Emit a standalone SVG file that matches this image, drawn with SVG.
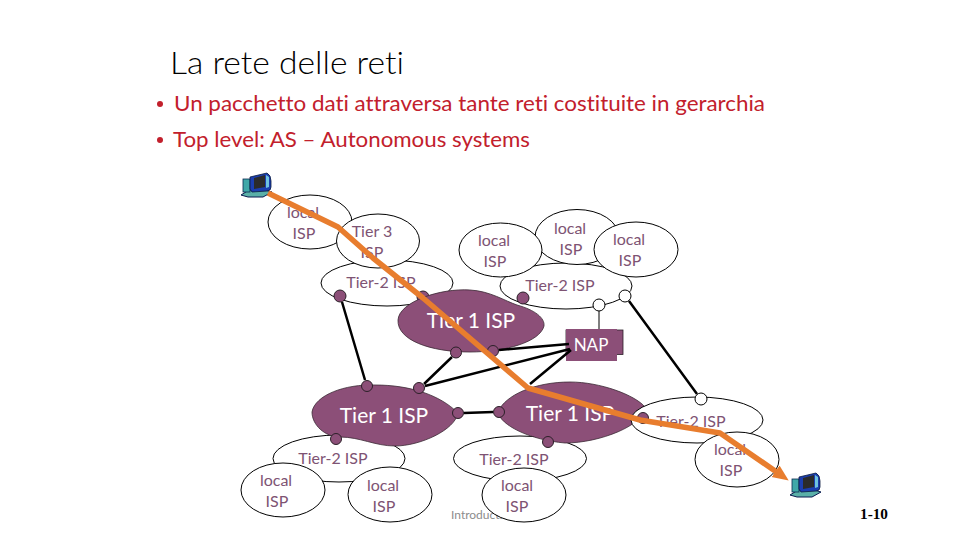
<svg xmlns="http://www.w3.org/2000/svg" width="960" height="540" viewBox="0 0 960 540">
<style>
text{font-variant-ligatures:none}
.title{font-family:"Lato","Open Sans","Liberation Sans",sans-serif;font-weight:300;font-size:32px;fill:#000}
.bullet{font-family:"Lato","Open Sans","Liberation Sans",sans-serif;font-size:21px;fill:#c2202c}
.lb{font-family:"Lato","Open Sans","Liberation Sans",sans-serif;font-size:16px;fill:#7e5373;text-anchor:middle}
.wl{font-family:"Lato","Open Sans","Liberation Sans",sans-serif;font-size:21px;fill:#fff;text-anchor:middle}
.wn{font-family:"Lato","Open Sans","Liberation Sans",sans-serif;font-size:17px;fill:#fff;text-anchor:middle}
.oval{fill:#fff;stroke:#000;stroke-width:1}
.t1{fill:#8c4f78;stroke:#3b2a35;stroke-width:.8}
.dot{fill:#8c4f78;stroke:#2b2028;stroke-width:1}
.wd{fill:#fff;stroke:#000;stroke-width:1}
.line{stroke:#000;stroke-width:2.5;fill:none}
.route{stroke:#e87d2e;stroke-width:5.5;fill:none;stroke-linejoin:round}
</style>
<defs>
<marker id="ah" markerUnits="userSpaceOnUse" markerWidth="18" markerHeight="16" refX="3" refY="8" orient="auto"><polygon points="0,1 16,8 0,15" fill="#e87d2e"/></marker>
<g id="pc">
<polygon points="0,23 7,25 22,25 31,20 24,18 8,18" fill="#5ab0a8" stroke="#0a1a50" stroke-width="1"/>
<rect x="2" y="7" width="7" height="13" fill="#3fa8a8" stroke="#0a2a50" stroke-width=".8"/>
<path d="M9 5L26 1Q30 3 30 9V15Q30 19 26 19L11 20L9 17Z" fill="#1c3fb0" stroke="#0a1a40" stroke-width=".8"/>
<path d="M13 6L24 3V15L13 17Z" fill="#2b2b2b"/>
<path d="M25 3L28 5V15L25 16Z" fill="#6fc4e0"/>
</g>
</defs>
<text class="title" x="170" y="74" textLength="234" lengthAdjust="spacingAndGlyphs">La rete delle reti</text>
<g id="bullets">
<circle cx="160" cy="104" r="3" fill="#c2202c"/>
<text class="bullet" x="174" y="111" textLength="591" lengthAdjust="spacingAndGlyphs">Un pacchetto dati attraversa tante reti costituite in gerarchia</text>
<circle cx="160" cy="140" r="3" fill="#c2202c"/>
<text class="bullet" x="173" y="147" textLength="357" lengthAdjust="spacingAndGlyphs">Top level: AS – Autonomous systems</text>
</g>
<text x="451" y="519" font-family="Lato,'Open Sans','Liberation Sans',sans-serif" font-size="12" fill="#8c8c8c">Introduction</text>
<g id="tier2-a"><ellipse class="oval" cx="387" cy="283" rx="66" ry="23"/><text class="lb" x="381" y="288">Tier-2 ISP</text></g>
<g id="local-a"><ellipse class="oval" cx="310" cy="222" rx="42" ry="27"/><text class="lb"><tspan x="303" y="218">local</tspan><tspan x="304" y="239">ISP</tspan></text></g>
<g id="tier3"><ellipse class="oval" cx="378" cy="241" rx="41.500" ry="27"/><text class="lb"><tspan x="372" y="237">Tier 3</tspan><tspan x="372" y="258">ISP</tspan></text></g>
<g id="tier2-b"><ellipse class="oval" cx="566" cy="286" rx="66" ry="23"/><text class="lb" x="560" y="291">Tier-2 ISP</text></g>
<g id="local-c"><ellipse class="oval" cx="577" cy="237" rx="42" ry="27.500"/><text class="lb"><tspan x="570" y="234">local</tspan><tspan x="571" y="255">ISP</tspan></text></g>
<g id="local-b"><ellipse class="oval" cx="500.500" cy="250" rx="41.500" ry="27"/><text class="lb"><tspan x="494" y="246">local</tspan><tspan x="495" y="267">ISP</tspan></text></g>
<g id="local-d"><ellipse class="oval" cx="636" cy="249.500" rx="42" ry="27.500"/><text class="lb"><tspan x="629" y="245">local</tspan><tspan x="630" y="266">ISP</tspan></text></g>
<g id="tier1-top"><circle class="dot" cx="423" cy="297" r="6"/><circle class="dot" cx="523" cy="298" r="6"/><path class="t1" d="M398 320C399 302 440 288 470 290C490 291 505 301 517 305C535 310 545 318 544 326C540 342 505 352 470 352C430 352 397 340 398 320Z"/><text class="wl" x="471" y="328">Tier 1 ISP</text><circle class="dot" cx="456" cy="352.500" r="5.500"/><circle class="dot" cx="493" cy="351" r="5.500"/></g>
<circle class="dot" cx="340" cy="296" r="6"/>
<g id="nap"><rect x="566" y="330" width="57" height="24.500" fill="#8c4f78" stroke="#2b2028" stroke-width=".8"/><rect x="566" y="329" width="51" height="32" fill="#8c4f78"/><text class="wn" x="591" y="351">NAP</text></g>
<circle class="wd" cx="599" cy="305" r="6"/><circle class="wd" cx="625" cy="296" r="6"/>
<g id="tier2-c"><ellipse class="oval" cx="339" cy="458.500" rx="66" ry="23.500"/><text class="lb" x="333" y="464">Tier-2 ISP</text></g>
<g id="tier1-left"><path class="t1" d="M312 412C315 395 345 384 375 385C410 385 440 395 458 413C455 430 420 446 395 446C375 446 360 437 340 437C325 437 312 425 312 412Z"/><text class="wl" x="384" y="423">Tier 1 ISP</text><circle class="dot" cx="367" cy="386" r="5.500"/><circle class="dot" cx="419" cy="388" r="5.500"/><circle class="dot" cx="458" cy="413" r="5.500"/><circle class="dot" cx="336" cy="439" r="5.500"/></g>
<g id="local-e"><ellipse class="oval" cx="283" cy="490" rx="42" ry="27"/><text class="lb"><tspan x="276" y="486">local</tspan><tspan x="277" y="507">ISP</tspan></text></g>
<g id="local-f"><ellipse class="oval" cx="390" cy="494.500" rx="42" ry="27.500"/><text class="lb"><tspan x="383" y="491">local</tspan><tspan x="384" y="512">ISP</tspan></text></g>
<g id="tier2-d"><ellipse class="oval" cx="520" cy="458.500" rx="66.500" ry="22.500"/><text class="lb" x="514" y="465">Tier-2 ISP</text></g>
<g id="tier1-right"><path class="t1" d="M498 412C505 395 535 382 570 382C600 382 635 395 645 407C645 425 600 443 565 443C530 440 500 425 498 412Z"/><text class="wl" x="570" y="421">Tier 1 ISP</text><circle class="dot" cx="499" cy="412" r="5.500"/><circle class="dot" cx="548" cy="442" r="5.500"/></g>
<g id="local-g"><ellipse class="oval" cx="524" cy="495" rx="42" ry="27"/><text class="lb"><tspan x="517" y="491">local</tspan><tspan x="517" y="512">ISP</tspan></text></g>
<g id="tier2-e"><ellipse class="oval" cx="697" cy="420" rx="66" ry="23"/><text class="lb" x="691" y="427">Tier-2 ISP</text><circle class="dot" cx="643" cy="418" r="5.500"/><circle class="wd" cx="701" cy="399" r="6"/></g>
<g id="local-h"><ellipse class="oval" cx="737" cy="459.500" rx="42" ry="27.500"/><text class="lb"><tspan x="730" y="455">local</tspan><tspan x="731" y="476">ISP</tspan></text></g>
<use id="pc-a" href="#pc" x="241" y="172"/>
<use id="pc-b" href="#pc" x="790" y="472"/>
<g id="connectors">
<path class="line" d="M342 302L365 380M629 301L697 394M452 357L424 384M425 386L570 349M499 350L569 344M530 384L571 350M464 413L493 412"/>
<path d="M599 311V329" stroke="#000" stroke-width="1"/>
<path class="route" marker-end="url(#ah)" d="M268 193L338 227L373 258L423 298L528 388L640 420L720 433L778 473"/>
</g>
<text x="860" y="519" font-family="'Liberation Serif',serif" font-weight="bold" font-size="14" fill="#000" textLength="28" lengthAdjust="spacingAndGlyphs">1-10</text>
</svg>
